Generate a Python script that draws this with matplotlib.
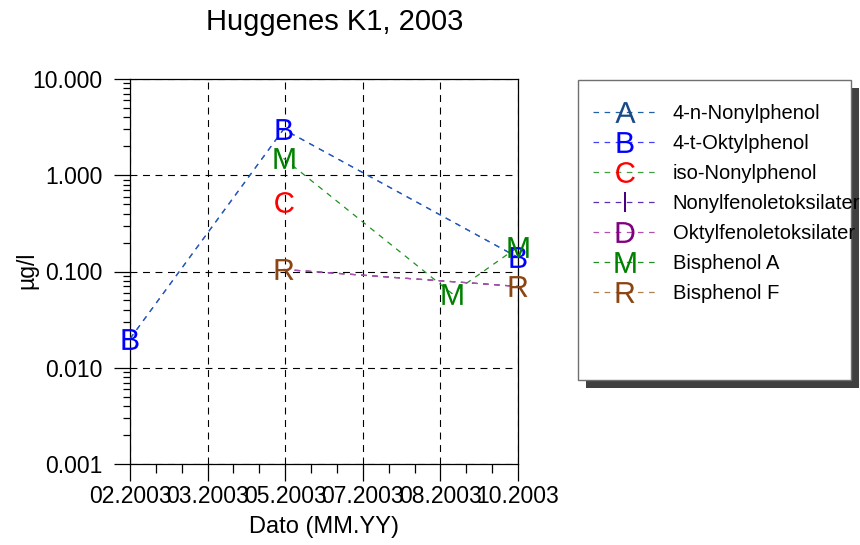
import numpy as np
import matplotlib
matplotlib.use('Agg')
import matplotlib.pyplot as plt
import matplotlib.dates as mdates
from matplotlib.lines import Line2D
from matplotlib.patches import Rectangle
from matplotlib.ticker import FixedLocator, AutoMinorLocator, LogLocator, FormatStrFormatter, NullFormatter

plt.rcParams['font.family'] = ['Liberation Sans', 'DejaVu Sans']
plt.rcParams['mathtext.fontset'] = 'custom'
plt.rcParams['mathtext.rm'] = 'Liberation Sans'
plt.rcParams['lines.scale_dashes'] = False

# sampling dates and values (ug/l), nan = not measured
dates = np.array(['2003-02-10', '2003-05-14', '2003-08-24', '2003-10-03'], dtype='datetime64[D]')

nonylphenol_4n = np.array([0.02, 3.0, np.nan, 0.14])
oktylphenol_4t = np.array([0.02, 3.0, np.nan, 0.14])
iso_nonylphenol = np.array([np.nan, 0.53, np.nan, np.nan])
nonylfenoletoks = np.array([np.nan, 0.105, np.nan, 0.07])
oktylfenoletoks = np.array([np.nan, 0.105, np.nan, 0.07])
bisphenol_a = np.array([np.nan, 1.5, 0.059, 0.18])
bisphenol_f = np.array([np.nan, 0.105, np.nan, 0.07])

tick_dates = np.array(['2003-02-10', '2003-03-29', '2003-05-15', '2003-07-01',
                       '2003-08-17', '2003-10-03'], dtype='datetime64[D]')

# label, letter, values, line colour, marker colour, letters visible in plot, line zorder
series = [
    ('4-n-Nonylphenol', 'A', nonylphenol_4n, '#2060a8', '#1a4a85', False, 3),
    ('4-t-Oktylphenol', 'B', oktylphenol_4t, '#4040ff', '#0000ff', True, 2),
    ('iso-Nonylphenol', 'C', iso_nonylphenol, '#40a040', '#ff0000', True, 2),
    ('Nonylfenoletoksilater', 'I', nonylfenoletoks, '#5a30b0', '#4b0082', False, 3),
    ('Oktylfenoletoksilater', 'D', oktylfenoletoks, '#b050b0', '#800080', False, 3),
    ('Bisphenol A', 'M', bisphenol_a, '#209020', '#008000', True, 2),
    ('Bisphenol F', 'R', bisphenol_f, '#b08050', '#8b4513', True, 1),
]

dash = (0, (4, 4))

fig = plt.figure(figsize=(8.6, 5.45), dpi=100)
ax = fig.add_axes([130/860, 1-464/545, 388/860, 385/545])

handles = []
for label, letter, vals, lc, mc, show, z in series:
    m = ~np.isnan(vals)
    mk = r'$\mathrm{' + letter + '}$'
    ax.plot(dates[m], vals[m], ls=dash, lw=0.9, color=lc, zorder=z)
    if show:
        ax.plot(dates[m], vals[m], ls='none', marker=mk, ms=15, mfc=mc, mec=mc,
                mew=0, zorder=6, clip_on=False)
    handles.append(Line2D([], [], ls=dash, lw=0.9, color=lc, marker=mk, ms=15,
                          mfc=mc, mec=mc, mew=0, label=label))

ax.set_yscale('log')
ax.set_ylim(0.001, 10)
ax.set_xlim(tick_dates[0], tick_dates[-1])

ax.xaxis.set_major_locator(FixedLocator(mdates.date2num(tick_dates)))
ax.xaxis.set_major_formatter(mdates.DateFormatter('%m.%Y'))
ax.xaxis.set_minor_locator(AutoMinorLocator(3))
ax.yaxis.set_major_locator(LogLocator(base=10, numticks=10))
ax.yaxis.set_major_formatter(FormatStrFormatter('%.3f'))
ax.yaxis.set_minor_locator(LogLocator(base=10, subs=np.arange(2, 10), numticks=20))
ax.yaxis.set_minor_formatter(NullFormatter())

ax.grid(True, which='major', color='black', ls=(0, (5, 4)), lw=0.8)
ax.tick_params(axis='y', which='major', length=11.5, width=0.9, labelsize=16.5, pad=8.3)
ax.tick_params(axis='y', which='minor', length=5, width=0.9)
ax.tick_params(axis='x', which='major', length=12, width=0.9, labelsize=16.5, pad=3)
ax.tick_params(axis='x', which='minor', length=6.5, width=0.9)
for s in ax.spines.values():
    s.set_linewidth(0.9)

fig.text(335/860, 1-22/545, 'Huggenes K1, 2003', ha='center', va='center', fontsize=21)
fig.text(324/860, 1-527/545, 'Dato (MM.YY)', ha='center', va='center', fontsize=17)
fig.text(27/860, 1-270/545, 'µg/l', ha='center', va='center', rotation=90, fontsize=16.5)

# legend box with shadow
fig.patches.append(Rectangle((586/860, 1-388/545), 273/860, 300/545, transform=fig.transFigure,
                             fc='#404040', ec='none', zorder=1))
fig.patches.append(Rectangle((578/860, 1-380/545), 273/860, 300/545, transform=fig.transFigure,
                             fc='white', ec='#707070', lw=1, zorder=2))
fig.legend(handles=handles, loc='upper left', bbox_to_anchor=(593/860, 1-104/545),
           bbox_transform=fig.transFigure, frameon=False, fontsize=14.5, borderpad=0,
           borderaxespad=0, handlelength=3.2, handletextpad=0.75, labelspacing=0.55)

fig.savefig('out.png', dpi=100)
